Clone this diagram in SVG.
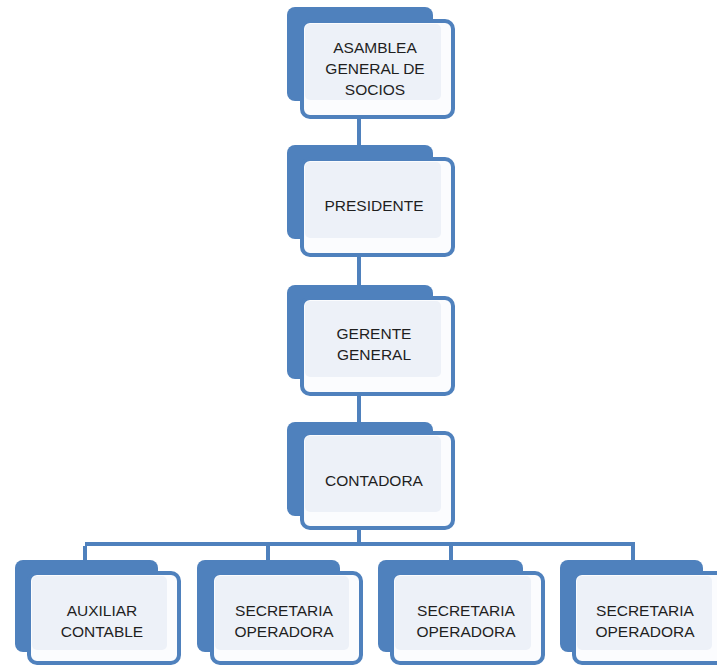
<svg xmlns="http://www.w3.org/2000/svg" width="717" height="665" viewBox="0 0 717 665">
<style>
.back{fill:#4F81BD;}
.front{fill:#FBFCFE;stroke:#4F81BD;stroke-width:4;}
.inner{fill:#EDF1F8;}
.conn{stroke:#4F81BD;stroke-width:4;fill:none;}
text{font-family:"Liberation Sans",Arial,sans-serif;font-size:15.5px;fill:#1F1F1F;text-anchor:middle;}
</style>
<rect width="717" height="665" fill="#FFFFFF"/>
<g id="connectors">
<path class="conn" d="M359 117V146M359 256V286M359 394V423M359 528V544M85 546V560M85 544H635M268 544V560M451 544V560M633 544V560"/>
</g>
<g id="n1">
<rect class="back" x="287" y="7" width="146" height="94" rx="8"/>
<rect class="front" x="302" y="21" width="151" height="96" rx="8"/>
<rect class="inner" x="305" y="24" width="136" height="76" rx="5"/>
<text x="375" y="53">ASAMBLEA</text>
<text x="375" y="74">GENERAL DE</text>
<text x="375" y="95">SOCIOS</text>
</g>
<g id="n2">
<rect class="back" x="287" y="145" width="146" height="94" rx="8"/>
<rect class="front" x="302" y="159" width="151" height="96" rx="8"/>
<rect class="inner" x="305" y="162" width="136" height="76" rx="5"/>
<text x="374" y="211">PRESIDENTE</text>
</g>
<g id="n3">
<rect class="back" x="287" y="285" width="146" height="94" rx="8"/>
<rect class="front" x="302" y="298" width="151" height="96" rx="8"/>
<rect class="inner" x="305" y="301" width="136" height="76" rx="5"/>
<text x="374" y="339">GERENTE</text>
<text x="374" y="360">GENERAL</text>
</g>
<g id="n4">
<rect class="back" x="287" y="422" width="146" height="94" rx="8"/>
<rect class="front" x="302" y="433" width="151" height="95" rx="8"/>
<rect class="inner" x="305" y="436" width="136" height="76" rx="5"/>
<text x="374" y="486">CONTADORA</text>
</g>
<g id="n5">
<rect class="back" x="15" y="560" width="143" height="92" rx="8"/>
<rect class="front" x="29" y="573" width="150" height="90" rx="8"/>
<rect class="inner" x="32" y="576" width="135" height="74" rx="5"/>
<text x="102" y="616">AUXILIAR</text>
<text x="102" y="637">CONTABLE</text>
</g>
<g id="n6">
<rect class="back" x="197" y="560" width="143" height="92" rx="8"/>
<rect class="front" x="212" y="573" width="149" height="90" rx="8"/>
<rect class="inner" x="215" y="576" width="134" height="74" rx="5"/>
<text x="284" y="616">SECRETARIA</text>
<text x="284" y="637">OPERADORA</text>
</g>
<g id="n7">
<rect class="back" x="378" y="560" width="145" height="92" rx="8"/>
<rect class="front" x="392" y="573" width="151" height="90" rx="8"/>
<rect class="inner" x="395" y="576" width="136" height="74" rx="5"/>
<text x="466" y="616">SECRETARIA</text>
<text x="466" y="637">OPERADORA</text>
</g>
<g id="n8">
<rect class="back" x="560" y="560" width="143" height="92" rx="8"/>
<rect class="front" x="574" y="573" width="150" height="90" rx="8"/>
<rect class="inner" x="577" y="576" width="135" height="74" rx="5"/>
<text x="645" y="616">SECRETARIA</text>
<text x="645" y="637">OPERADORA</text>
</g>
</svg>
